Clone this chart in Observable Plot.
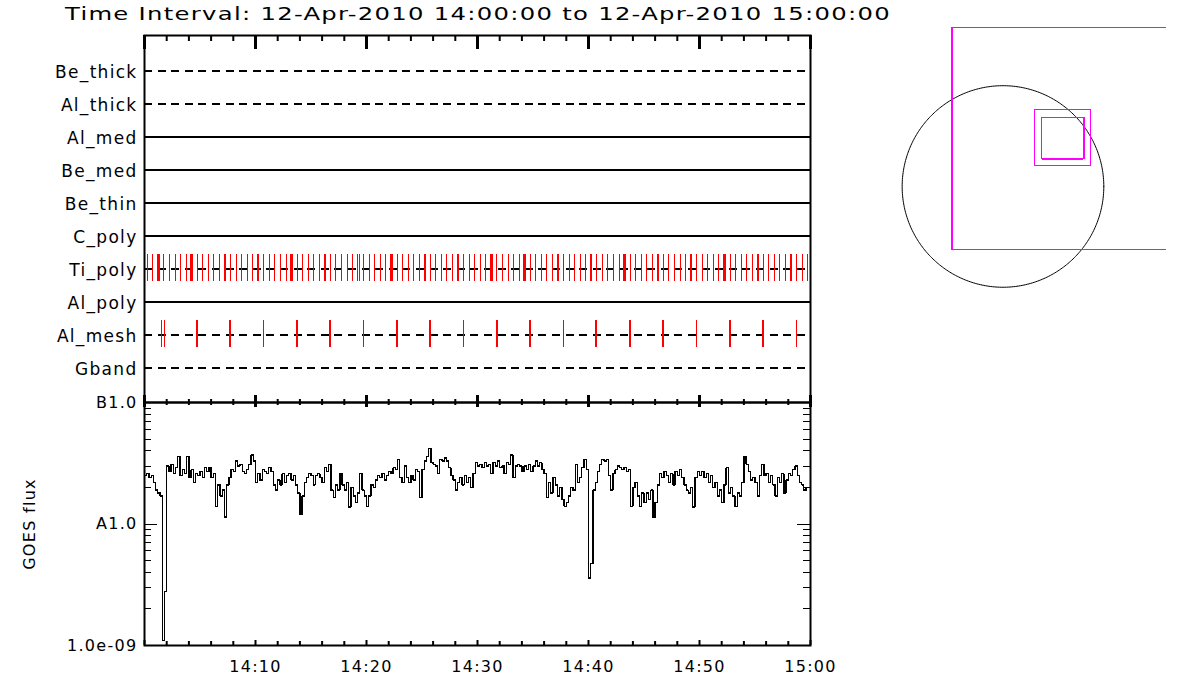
<!DOCTYPE html>
<html>
<head>
<meta charset="utf-8">
<script src="https://cdn.jsdelivr.net/npm/d3@7"></script>
<script src="https://cdn.jsdelivr.net/npm/@observablehq/plot@0.6"></script>
<style>
  html, body { margin: 0; padding: 0; background: #fff; }
  body { width: 1200px; height: 700px; position: relative; overflow: hidden; font-family: "DejaVu Sans", sans-serif; color: #000; }
  #title { position: absolute; left: 65px; top: 5px; font-size: 18px; line-height: 18px; white-space: nowrap;
           transform-origin: 0 0; transform: scaleX(1.35); letter-spacing: 0.95px; }
  .panel { position: absolute; left: 0; }
  svg text { letter-spacing: 1.3px; }
</style>
</head>
<body>
<div id="title">Time Interval: 12-Apr-2010 14:00:00 to 12-Apr-2010 15:00:00</div>
<div id="top" class="panel" style="top:0px"></div>
<div id="bottom" class="panel" style="top:380px"></div>
<div id="inset" style="position:absolute; left:890px; top:20px"></div>
<script>
// ---------------- data ----------------
const startUTC = [2010, 3, 12, 14, 0, 0];
const endUTC = [2010, 3, 12, 15, 0, 0];

const rowNames = ["Be_thick", "Al_thick", "Al_med", "Be_med", "Be_thin", "C_poly", "Ti_poly", "Al_poly", "Al_mesh", "Gband"];
const dashedRows = ["Be_thick", "Al_thick", "Ti_poly", "Al_mesh", "Gband"];

// Ti_poly event marks (minutes after 14:00)
const tiPolyThin = [0.25,0.75,1.75,2.25,2.75,3.25,3.75,4.75,5.25,5.75,6.25,6.75,7.75,8.25,8.75,9.25,9.75,10.75,11.25,11.75,12.25,12.75,13.75,14.25,14.75,15.25,15.75,16.75,17.25,17.75,18.25,18.75,19.75,20.25,20.75,21.25,21.75,22.75,23.25,23.75,24.25,24.75,25.75,26.25,26.75,27.25,27.75,28.75,29.25,29.75,30.25,30.75,31.75,32.25,32.75,33.25,33.75,34.75,35.25,35.75,36.25,36.75,37.75,38.25,38.75,39.25,39.75,40.75,41.25,41.75,42.25,42.75,43.75,44.25,44.75,45.25,45.75,46.75,47.25,47.75,48.25,48.75,49.75,50.25,50.75,51.25,51.75,52.75,53.25,53.75,54.25,54.75,55.75,56.25,56.75,57.25,57.75,58.75,59.25,59.75];
const tiPolyThick = [1.25,4.25,7.25,10.25,13.25,16.25,22.25,25.25,31.25,34.25,37.25,40.25,43.25,46.25,49.25,52.25,55.25,58.25];
const tiPolyDouble = [19.17,19.33,28.17,28.33];

// Al_mesh event marks (minutes after 14:00)
const alMeshThick = [4.72,7.72,13.72,16.72,22.72,25.72,31.72,34.72,40.72,43.72,46.72,52.72,55.72];
const alMeshThin = [1.55,1.76,10.72,19.72,28.72,37.72,49.72,58.72];

// x ticks (minutes after 14:00)
const xMajorMin = [0,10,20,30,40,50,60];
const xMinorMin = [2,4,6,8,12,14,16,18,22,24,26,28,32,34,36,38,42,44,46,48,52,54,56,58];
const xLabelMin = [10,20,30,40,50,60];

// y ticks (W/m^2)
const yMajor = [1e-9, 1e-8, 1e-7];
const yMajorLabels = ["1.0e-09", "A1.0", "B1.0"];
const yMinor = [2e-9,3e-9,4e-9,5e-9,6e-9,7e-9,8e-9,9e-9,2e-8,3e-8,4e-8,5e-8,6e-8,7e-8,8e-8,9e-8];

// GOES flux, units of 1e-9 W/m^2, one row per minute, samples every 12 s
const goesFluxRows = [
  [25,26,24,25,22],[19,18,17,1.1,2.8],[30,27,31,26,29],[36,25,28,26,36],[24,28,22,26,25],
  [27,24,29,27,29],[24,26,14,21,17],[19,11.4,21,24,28],[27,33,30,31,27],[26,28,31,37,33],
  [22,26,23,28,27],[26,29,27,21,19],[23,21,26,22,25],[26,23,25,21,18],[12,17,22,24,26],
  [25,21,25,26,24],[22,29,27,31,19],[16.6,21,19,26,21],[19,22,13.8,20,17],[15,18,26,19,17],
  [14,17,21,20,23],[25,24,26,23,25],[27,26,29,28,34],[24,22,30,24,22],[25,23,28,27,16.6],
  [28,33,36,42,32],[31,30,26,34,33],[35,33,29,25,23],[19,22,24,21,25],[22,24,20,26,32],
  [30,31,29,32,30],[31,26,32,30,33],[29,30,26,32,31],[37,24,30,31,30],[27,30,28,31,27],
  [30,33,30,32,28],[26,16.6,22,18,24],[21,17,20,16,14],[15,17,20,19,31],[22,24,29,34,28],
  [3.6,4.7,19,22,27],[31,34,33,34,25],[19,26,28,30,29],[28,29,27,28,14],[20,22,17,14,18],
  [15,18,16,19,11.4],[15,21,26,24,27],[25,22,26,21,27],[25,28,24,21,19],[18,20,13.8,24,27],
  [25,27,24,26,22],[25,20,22,17,19],[15,21,29,18,20],[17,14,18,17,22],[36,31,27,23,24],
  [22,17,25,31,25],[26,22,25,21,17],[24,22,26,18,23],[26,25,28,30,25],[22,21,19,20,20]
];
const goesFluxEnd = 20;
const goesSampleSec = 12;

// inset (arcsec, solar disk centred at 0,0)
const diskRadius = 960;
const fullFov = [{x1: -490, x2: 1624, y1: -603, y2: 1511}];
const outerBox = [{x1: 303, x2: 836, y1: 193, y2: 724}];
const innerBox = [{x1: 372, x2: 770, y1: 257, y2: 655}];

// ---------------- helpers ----------------
const t0 = new Date(Date.UTC(...startUTC));
const t1 = new Date(Date.UTC(...endUTC));
const atMin = m => new Date(t0.getTime() + m * 60000);
const goesData = goesFluxRows.flat().concat([goesFluxEnd])
  .map((v, i) => ({time: new Date(t0.getTime() + i * goesSampleSec * 1000), flux: v * 1e-9}));

const W = 900, ML = 144, MR = 90;
const RED = "#ff0000", MAG = "#ff00ff";
const CRISP = "crispEdges";

// ---------------- top panel ----------------
const topH = 420, topMT = 35, topMB = 18;
const topFH = topH - topMT - topMB; // frame height
const topPlot = Plot.plot({
  width: W, height: topH, marginLeft: ML, marginRight: MR, marginTop: topMT, marginBottom: topMB,
  style: {fontFamily: "DejaVu Sans", fontSize: "17px", color: "black", background: "transparent", overflow: "visible"},
  x: {type: "utc", domain: [t0, t1], axis: null},
  y: {type: "band", domain: rowNames, paddingInner: 0, paddingOuter: 0.5, axis: null},
  marks: [
    Plot.ruleY(rowNames.filter(r => !dashedRows.includes(r)), {y: d => d, stroke: "black", strokeWidth: 2, shapeRendering: CRISP}),
    Plot.ruleY(dashedRows, {y: d => d, stroke: "black", strokeWidth: 2, strokeDasharray: "8,5.6", shapeRendering: CRISP}),
    Plot.tickX(tiPolyThin.map(atMin), {x: d => d, y: () => "Ti_poly", stroke: RED, strokeWidth: 1, insetTop: 1.7, insetBottom: 4, shapeRendering: CRISP}),
    Plot.tickX(tiPolyDouble.map(atMin), {x: d => d, y: () => "Ti_poly", stroke: RED, strokeWidth: 1, insetTop: 1.7, insetBottom: 4, shapeRendering: CRISP}),
    Plot.tickX(tiPolyThick.map(atMin), {x: d => d, y: () => "Ti_poly", stroke: RED, strokeWidth: 2.4, insetTop: 1.7, insetBottom: 4, shapeRendering: CRISP}),
    Plot.tickX(alMeshThin.map(atMin), {x: d => d, y: () => "Al_mesh", stroke: RED, strokeWidth: 1, insetTop: 1.7, insetBottom: 4, shapeRendering: CRISP}),
    Plot.tickX(alMeshThick.map(atMin), {x: d => d, y: () => "Al_mesh", stroke: RED, strokeWidth: 2, insetTop: 1.7, insetBottom: 4, shapeRendering: CRISP}),
    Plot.axisY({tickSize: 0, tickPadding: 7, fontSize: 17, dy: 2, fill: "black"}),
    // ticks along top edge (pointing down)
    Plot.tickX(xMinorMin.map(atMin), {x: d => d, stroke: "black", strokeWidth: 2, insetBottom: topFH - 6}),
    Plot.tickX(xMajorMin.map(atMin), {x: d => d, stroke: "black", strokeWidth: 3, insetBottom: topFH - 14}),
    // ticks along bottom edge (pointing up)
    Plot.tickX(xMinorMin.map(atMin), {x: d => d, stroke: "black", strokeWidth: 2, insetTop: topFH - 3}),
    Plot.tickX(xMajorMin.map(atMin), {x: d => d, stroke: "black", strokeWidth: 3, insetTop: topFH - 7}),
    Plot.frame({stroke: "black", strokeWidth: 2})
  ]
});
document.getElementById("top").appendChild(topPlot);

// ---------------- bottom panel (GOES) ----------------
const botH = 320, botMT = 22, botMB = 55;
const botFH = botH - botMT - botMB;
const FW = W - ML - MR;
const labelOf = new Map(yMajor.map((v, i) => [v, yMajorLabels[i]]));
const bottomPlot = Plot.plot({
  width: W, height: botH, marginLeft: ML, marginRight: MR, marginTop: botMT, marginBottom: botMB,
  style: {fontFamily: "DejaVu Sans", fontSize: "16px", color: "black", background: "transparent", overflow: "visible"},
  x: {type: "utc", domain: [t0, t1], axis: null},
  y: {type: "log", domain: [1e-9, 1e-7], axis: null},
  marks: [
    Plot.line(goesData, {x: "time", y: "flux", curve: "step-after", stroke: "black", strokeWidth: 1.3, shapeRendering: CRISP}),
    Plot.axisY(yMajor, {tickSize: 0, tickPadding: 7, fontSize: 16, fill: "black",
      tickFormat: d => labelOf.get(d), label: "GOES flux", labelAnchor: "center", labelOffset: 121, labelArrow: "none"}),
    Plot.tickY(yMinor, {y: d => d, stroke: "black", strokeWidth: 1, insetRight: FW - 7, shapeRendering: CRISP}),
    Plot.tickY(yMinor, {y: d => d, stroke: "black", strokeWidth: 1, insetLeft: FW - 7, shapeRendering: CRISP}),
    Plot.tickY(yMajor, {y: d => d, stroke: "black", strokeWidth: 1, insetRight: FW - 13, shapeRendering: CRISP}),
    Plot.tickY(yMajor, {y: d => d, stroke: "black", strokeWidth: 1, insetLeft: FW - 13, shapeRendering: CRISP}),
    Plot.axisX(xLabelMin.map(atMin), {tickSize: 0, tickPadding: 15, fontSize: 16, fill: "black",
      tickFormat: d3.utcFormat("%H:%M"), label: null}),
    // ticks along top edge (pointing down)
    Plot.tickX(xMinorMin.map(atMin), {x: d => d, stroke: "black", strokeWidth: 2, insetBottom: botFH - 3}),
    Plot.tickX(xMajorMin.map(atMin), {x: d => d, stroke: "black", strokeWidth: 3, insetBottom: botFH - 5}),
    // ticks along bottom edge (pointing up)
    Plot.tickX(xMinorMin.map(atMin), {x: d => d, stroke: "black", strokeWidth: 2, insetTop: botFH - 4}),
    Plot.tickX(xMajorMin.map(atMin), {x: d => d, stroke: "black", strokeWidth: 2, insetTop: botFH - 5}),
    Plot.frame({stroke: "black", strokeWidth: 2})
  ]
});
document.getElementById("bottom").appendChild(bottomPlot);

// ---------------- inset (solar disk + fields of view) ----------------
const diskOutline = d3.range(0, 361, 1).map(a => ({
  x: diskRadius * Math.cos(a * Math.PI / 180),
  y: diskRadius * Math.sin(a * Math.PI / 180)
}));
const insetPlot = Plot.plot({
  width: 276, height: 272, margin: 0,
  style: {background: "transparent"},
  x: {domain: [-1071, 1557], axis: null},
  y: {domain: [-1010, 1581], axis: null},
  marks: [
    Plot.line(diskOutline, {x: "x", y: "y", stroke: "black", strokeWidth: 1}),
    Plot.rect(fullFov, {x1: "x1", x2: "x2", y1: "y1", y2: "y2", fill: "none", stroke: MAG, strokeWidth: 1, clip: true, shapeRendering: CRISP}),
    Plot.ruleX(fullFov, {x: "x1", y1: "y1", y2: "y2", stroke: MAG, strokeWidth: 2, shapeRendering: CRISP}),
    Plot.rect(outerBox, {x1: "x1", x2: "x2", y1: "y1", y2: "y2", fill: "none", stroke: MAG, strokeWidth: 1, shapeRendering: CRISP}),
    Plot.rect(innerBox, {x1: "x1", x2: "x2", y1: "y1", y2: "y2", fill: "none", stroke: MAG, strokeWidth: 1, shapeRendering: CRISP}),
    Plot.ruleX(innerBox, {x: "x2", y1: "y1", y2: "y2", stroke: MAG, strokeWidth: 2, shapeRendering: CRISP}),
    Plot.ruleY(innerBox, {y: "y1", x1: "x1", x2: "x2", stroke: MAG, strokeWidth: 2, shapeRendering: CRISP})
  ]
});
document.getElementById("inset").appendChild(insetPlot);
</script>
</body>
</html>
